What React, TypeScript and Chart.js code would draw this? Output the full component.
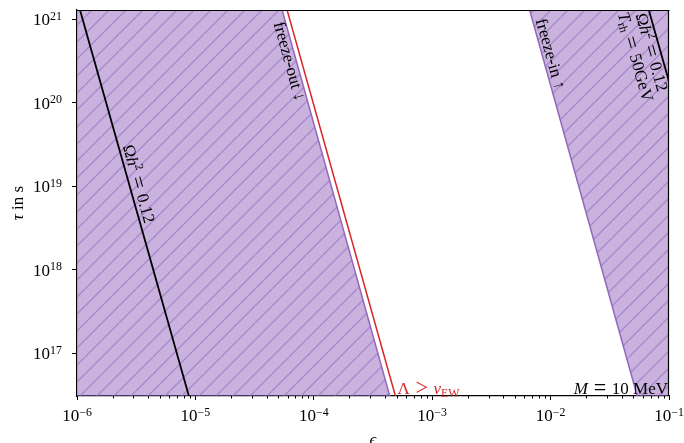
import { useEffect, useRef } from 'react';
import { Chart, registerables } from 'chart.js';

Chart.register(...registerables);

// ---- axis ranges and ticks ----
const EPS_MIN = 1e-6;
const EPS_MAX = 1e-1;
const TAU_MIN = 3.1e16;
const TAU_MAX = 1.29e21;

const xTickValues = [1e-6, 1e-5, 1e-4, 1e-3, 1e-2, 1e-1];
const xTickExponents = ['−6', '−5', '−4', '−3', '−2', '−1'];
const xMinorMultipliers = [2, 3, 4, 5, 6, 7, 8, 9];
const yTickValues = [1e17, 1e18, 1e19, 1e20, 1e21];
const yTickExponents = ['17', '18', '19', '20', '21'];

// ---- curves (epsilon, tau) ----
const relicLowEps = [1.06e-6, 8.81e-6];
const relicLowTau = [1.29e21, 3.1e16];

const freezeOutEps = [5.4e-5, 4.38e-4];
const freezeOutTau = [1.29e21, 3.1e16];

const ewBoundEps = [5.95e-5, 4.89e-4];
const ewBoundTau = [1.29e21, 3.1e16];

const freezeInEps = [6.65e-3, 5.39e-2];
const freezeInTau = [1.29e21, 3.1e16];

const relicHighEps = [6.75e-2, 1e-1];
const relicHighTau = [1.29e21, 1.8e20];

// label anchor tau values
const relicLowLabelTau = 1.0e19;
const freezeOutLabelTau = 3.3e20;
const freezeInLabelTau = 3.6e20;
const relicHighLabelTau = 4.3e20;

const PURPLE = '#9467bd';
const RED = '#d62728';
const FONT = '"Liberation Serif", "DejaVu Serif", serif';
const SP = '\u2004';

type Run = { t: string; it?: boolean; s?: number; dy?: number };

// math-style relation sign with wider spacing (like TeX)
function rel(sym: string): Run[] {
  return [{ t: SP }, { t: sym, s: 1.3, dy: 1.3 }, { t: SP }];
}

function fontFor(r: Run, size: number) {
  return `${r.it ? 'italic ' : ''}${(size * (r.s ?? 1)).toFixed(2)}px ${FONT}`;
}

function richWidth(ctx: CanvasRenderingContext2D, runs: Run[], size: number) {
  let w = 0;
  for (const r of runs) {
    ctx.font = fontFor(r, size);
    w += ctx.measureText(r.t).width;
  }
  return w;
}

function drawRich(
  ctx: CanvasRenderingContext2D,
  runs: Run[],
  x: number,
  y: number,
  size: number,
  align: 'left' | 'center' | 'right',
  color: string
) {
  const w = richWidth(ctx, runs, size);
  let cx = align === 'left' ? x : align === 'center' ? x - w / 2 : x - w;
  ctx.fillStyle = color;
  ctx.textAlign = 'left';
  ctx.textBaseline = 'alphabetic';
  for (const r of runs) {
    ctx.font = fontFor(r, size);
    ctx.fillText(r.t, cx, y + (r.dy ?? 0));
    cx += ctx.measureText(r.t).width;
  }
}

function toPoints(eps: number[], tau: number[]) {
  return eps.map((e, i) => ({ x: e, y: tau[i] }));
}

function drawAlongLine(
  ctx: CanvasRenderingContext2D,
  xs: any,
  ys: any,
  eps: number[],
  tau: number[],
  tauAt: number,
  offset: number,
  runs: Run[],
  size: number,
  align: 'left' | 'center' | 'right',
  color: string
) {
  let dx = xs.getPixelForValue(eps[1]) - xs.getPixelForValue(eps[0]);
  let dy = ys.getPixelForValue(tau[1]) - ys.getPixelForValue(tau[0]);
  if (dy < 0) {
    dx = -dx;
    dy = -dy;
  }
  const ang = Math.atan2(dy, dx);
  const lt0 = Math.log10(tau[0]);
  const lt1 = Math.log10(tau[1]);
  const f = (Math.log10(tauAt) - lt0) / (lt1 - lt0);
  const le = Math.log10(eps[0]) + f * (Math.log10(eps[1]) - Math.log10(eps[0]));
  const px = xs.getPixelForValue(Math.pow(10, le));
  const py = ys.getPixelForValue(tauAt);
  const nx = Math.sin(ang);
  const ny = -Math.cos(ang);
  ctx.save();
  ctx.translate(px + nx * offset, py + ny * offset);
  ctx.rotate(ang);
  drawRich(ctx, runs, 0, 0, size, align, color);
  ctx.restore();
}

function makeHatch(): CanvasPattern | string {
  const S = 17;
  const c = document.createElement('canvas');
  c.width = S;
  c.height = S;
  const g = c.getContext('2d');
  if (!g) return 'rgba(148,103,189,0.5)';
  g.fillStyle = 'rgba(148,103,189,0.5)';
  g.fillRect(0, 0, S, S);
  g.strokeStyle = 'rgba(148,103,189,0.55)';
  g.lineWidth = 1.5;
  for (const k of [-1, 0, 1]) {
    g.beginPath();
    g.moveTo(k * S, S);
    g.lineTo(k * S + S, 0);
    g.stroke();
  }
  const p = g.createPattern(c, 'repeat');
  return p ?? 'rgba(148,103,189,0.5)';
}

const TICK_SIZE = 17;
const LABEL_SIZE = 17;

const decorPlugin = {
  id: 'decor',
  afterDraw(chart: any) {
    const ctx: CanvasRenderingContext2D = chart.ctx;
    const xs = chart.scales.x;
    const ys = chart.scales.y;
    const a = chart.chartArea;
    ctx.save();
    // top and right spines
    ctx.strokeStyle = '#000';
    ctx.lineWidth = 1.2;
    ctx.beginPath();
    ctx.moveTo(a.left, Math.round(a.top) + 0.5);
    ctx.lineTo(a.right + 0.5, Math.round(a.top) + 0.5);
    ctx.moveTo(Math.round(a.right) - 0.5, a.top);
    ctx.lineTo(Math.round(a.right) - 0.5, a.bottom);
    ctx.stroke();

    // x minor ticks
    ctx.lineWidth = 1;
    ctx.beginPath();
    for (let i = 0; i < xTickValues.length - 1; i++) {
      for (const m of xMinorMultipliers) {
        const px = Math.round(xs.getPixelForValue(xTickValues[i] * m)) + 0.5;
        ctx.moveTo(px, a.bottom);
        ctx.lineTo(px, a.bottom + 2.5);
      }
    }
    ctx.stroke();

    // x tick labels
    xTickValues.forEach((v, i) => {
      const px = xs.getPixelForValue(v);
      drawRich(
        ctx,
        [{ t: '10' }, { t: xTickExponents[i], s: 0.7, dy: -5.3 }],
        px,
        421,
        TICK_SIZE,
        'center',
        '#000'
      );
    });
    // y tick labels
    yTickValues.forEach((v, i) => {
      const py = ys.getPixelForValue(v);
      drawRich(
        ctx,
        [{ t: '10' }, { t: yTickExponents[i], s: 0.7, dy: -5.3 }],
        62,
        py + 5.8,
        TICK_SIZE,
        'right',
        '#000'
      );
    });

    // axis titles
    drawRich(ctx, [{ t: 'ϵ', it: true }], (a.left + a.right) / 2, 444.5, TICK_SIZE, 'center', '#000');
    ctx.save();
    ctx.translate(22.5, (a.top + a.bottom) / 2);
    ctx.rotate(-Math.PI / 2);
    drawRich(ctx, [{ t: 'τ', it: true }, { t: ' in s' }], 0, 0, TICK_SIZE, 'center', '#000');
    ctx.restore();

    // clip annotations to the plot area
    ctx.save();
    ctx.beginPath();
    ctx.rect(a.left, a.top, a.right - a.left, a.bottom - a.top);
    ctx.clip();

    const omegaRuns: Run[] = [
      { t: 'Ω' }, { t: 'h', it: true }, { t: '2', s: 0.7, dy: -6.5 }, ...rel('='), { t: '0.12' },
    ];

    drawAlongLine(ctx, xs, ys, relicLowEps, relicLowTau, relicLowLabelTau, 4,
      omegaRuns, LABEL_SIZE, 'center', '#000');

    drawAlongLine(ctx, xs, ys, freezeOutEps, freezeOutTau, freezeOutLabelTau, -12,
      [{ t: 'freeze-out ↓' }], LABEL_SIZE, 'center', '#000');

    drawAlongLine(ctx, xs, ys, freezeInEps, freezeInTau, freezeInLabelTau, 3,
      [{ t: 'freeze-in ↑' }], LABEL_SIZE, 'center', '#000');

    drawAlongLine(ctx, xs, ys, relicHighEps, relicHighTau, relicHighLabelTau, -14,
      omegaRuns, LABEL_SIZE, 'center', '#000');
    drawAlongLine(ctx, xs, ys, relicHighEps, relicHighTau, relicHighLabelTau, -31,
      [{ t: 'T', it: true }, { t: 'rh', s: 0.7, dy: 2.5 }, ...rel('='), { t: '50GeV' }],
      LABEL_SIZE, 'center', '#000');

    ctx.restore();

    // red bound label
    drawRich(ctx,
      [{ t: 'Λ' }, ...rel('>'), { t: 'v', it: true }, { t: 'EW', s: 0.7, dy: 2.5 }],
      xs.getPixelForValue(ewBoundEps[1]) + 2, 394, LABEL_SIZE, 'left', RED);

    // mass label
    drawRich(ctx, [{ t: 'M', it: true }, ...rel('='), { t: '10 MeV' }], a.right - 1, 394, LABEL_SIZE, 'right', '#000');

    ctx.restore();
  },
};

export default function App() {
  const ref = useRef<HTMLCanvasElement>(null);
  useEffect(() => {
    const canvas = ref.current;
    if (!canvas) return;
    const hatch = makeHatch();
    const chart = new Chart(canvas, {
      type: 'line',
      data: {
        datasets: [
          {
            data: toPoints(relicLowEps, relicLowTau),
            borderColor: '#000',
            borderWidth: 1.8,
            fill: false,
            order: 1,
          },
          {
            data: toPoints(ewBoundEps, ewBoundTau),
            borderColor: RED,
            borderWidth: 1.5,
            fill: false,
            order: 1,
          },
          {
            data: toPoints(relicHighEps, relicHighTau),
            borderColor: '#000',
            borderWidth: 1.8,
            fill: false,
            order: 1,
          },
          {
            data: toPoints(freezeOutEps, freezeOutTau),
            borderColor: PURPLE,
            borderWidth: 1.5,
            backgroundColor: hatch as any,
            fill: { value: EPS_MIN } as any,
            order: 2,
          },
          {
            data: toPoints(freezeInEps, freezeInTau),
            borderColor: PURPLE,
            borderWidth: 1.5,
            backgroundColor: hatch as any,
            fill: { value: EPS_MAX } as any,
            order: 2,
          },
        ],
      },
      options: {
        animation: false,
        responsive: false,
        indexAxis: 'y',
        layout: { padding: { top: 10, right: 15, left: 0, bottom: 0 } },
        elements: { point: { radius: 0 }, line: { tension: 0 } },
        plugins: { legend: { display: false }, tooltip: { enabled: false } },
        scales: {
          x: {
            type: 'logarithmic',
            position: 'bottom',
            min: EPS_MIN,
            max: EPS_MAX,
            afterFit: (s: any) => {
              s.height = 47;
            },
            afterBuildTicks: (s: any) => {
              s.ticks = xTickValues.map((v) => ({ value: v }));
            },
            ticks: { display: false },
            grid: { drawOnChartArea: false, drawTicks: true, tickLength: 4, tickColor: '#000', tickWidth: 1 },
            border: { display: true, color: '#000', width: 1.2 },
          },
          y: {
            type: 'logarithmic',
            position: 'left',
            min: TAU_MIN,
            max: TAU_MAX,
            afterFit: (s: any) => {
              s.width = 77;
            },
            afterBuildTicks: (s: any) => {
              s.ticks = yTickValues.map((v) => ({ value: v }));
            },
            ticks: { display: false },
            grid: { drawOnChartArea: false, drawTicks: true, tickLength: 5, tickColor: '#000', tickWidth: 1 },
            border: { display: true, color: '#000', width: 1.2 },
          },
        },
      } as any,
      plugins: [decorPlugin],
    });
    return () => chart.destroy();
  }, []);
  return (
    <div style={{ position: 'fixed', left: 0, top: 0, width: 684, height: 443, background: '#fff' }}>
      <canvas ref={ref} width={684} height={443} style={{ display: 'block' }} />
    </div>
  );
}
